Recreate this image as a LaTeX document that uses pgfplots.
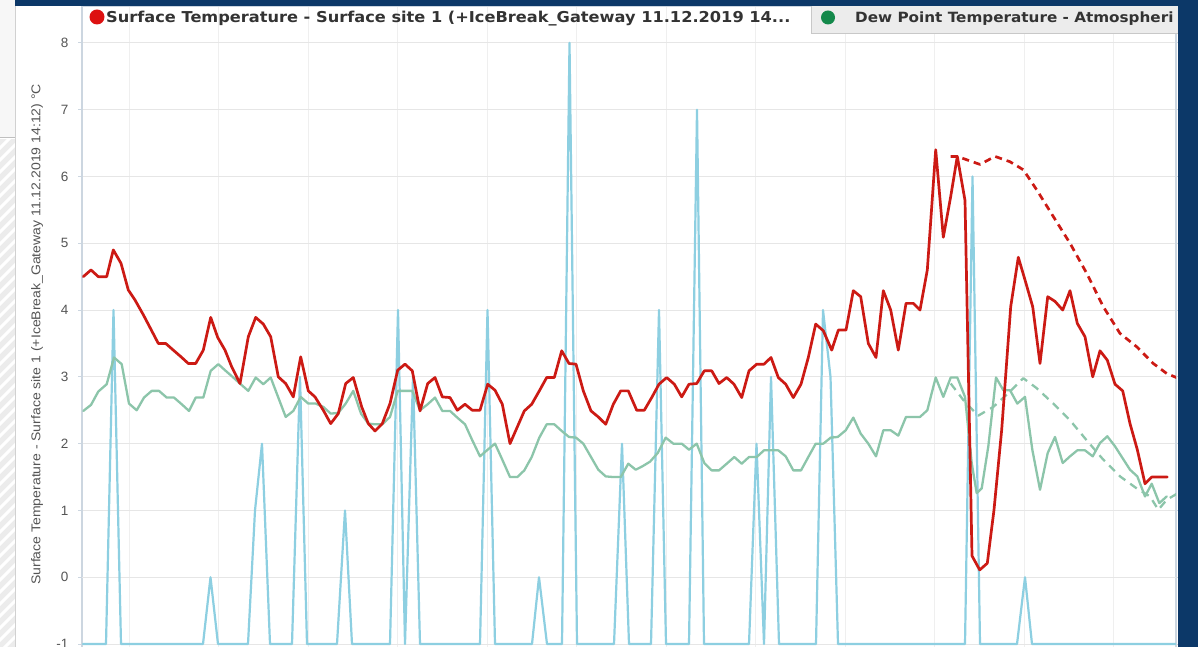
\documentclass[border=0pt]{standalone}
\usepackage{fontspec}
\setmainfont{Liberation Sans}
\newfontfamily\legfont[FakeStretch=1.08]{DejaVu Sans}
\newfontfamily\labfont[FakeStretch=1.1]{Liberation Sans}
\usepackage{pgfplots}
\pgfplotsset{compat=1.18}
\definecolor{navy}{HTML}{0C3868}
\definecolor{redline}{HTML}{CC1A14}
\definecolor{greenline}{HTML}{8CC5AA}
\definecolor{blueline}{HTML}{8DCFE1}
\definecolor{gridc}{HTML}{E6E6E6}
\definecolor{vgridc}{HTML}{EFEFEF}
\definecolor{axisc}{HTML}{CCD6E0}
\definecolor{zeroc}{HTML}{C4C4C4}
\definecolor{tabgray}{HTML}{ECECEC}
\definecolor{tabline}{HTML}{C8C8C8}
\definecolor{ticktext}{HTML}{555555}
\definecolor{legtext}{HTML}{333333}
\definecolor{legred}{HTML}{DD1111}
\definecolor{leggreen}{HTML}{14894B}
\definecolor{stripbg}{HTML}{ECECEC}

\pgfplotstableread{
x y
83.3 4.50
91 4.60
98.3 4.50
106.7 4.50
113.3 4.90
121 4.70
128.3 4.30
135 4.15
143.3 3.93
151 3.71
158.3 3.50
165.7 3.50
173.3 3.40
181 3.30
188.3 3.20
195.7 3.20
203.3 3.40
210.7 3.89
217.7 3.59
225 3.40
231.7 3.15
240 2.90
248.3 3.60
255.7 3.89
263.3 3.79
270.7 3.60
278.3 3.00
285.7 2.90
293.3 2.70
300.7 3.30
308.3 2.79
315 2.70
323.3 2.50
330.7 2.30
338.3 2.45
345.7 2.90
353.3 2.99
361.7 2.55
368.3 2.30
375 2.19
382.3 2.30
390 2.60
397.7 3.10
405 3.19
412.3 3.09
420 2.49
427.7 2.90
435 2.99
442.3 2.70
450 2.69
457.3 2.50
465 2.59
472.3 2.50
480 2.50
487.7 2.89
495 2.80
502.3 2.59
510 2.00
517.3 2.25
524.3 2.49
531.7 2.59
539.3 2.79
546.7 2.99
554.3 2.99
561.7 3.39
569 3.20
576 3.19
583.3 2.79
591 2.49
598.3 2.40
605.7 2.29
613.3 2.59
620.7 2.79
628.3 2.79
636.7 2.50
644.3 2.50
651.7 2.69
659 2.89
666.7 2.99
674.3 2.89
681.7 2.70
689 2.89
696.7 2.90
704.3 3.09
711.7 3.09
719 2.90
726.7 2.99
734 2.89
741.7 2.69
749 3.09
756.7 3.19
764 3.19
771 3.29
778.3 2.99
785.7 2.89
793.3 2.69
801 2.89
808.3 3.29
815.7 3.79
823.3 3.69
831.7 3.40
838.3 3.70
846 3.70
853.3 4.29
860.7 4.20
868.3 3.50
876 3.29
883.3 4.29
890.7 4.00
898.3 3.40
906 4.10
913.3 4.10
920 4.00
927.3 4.60
935.7 6.40
943.3 5.09
950.7 5.70
957.3 6.30
965 5.64
972 0.32
979.7 0.11
987.3 0.21
994 1.01
1001.7 2.21
1010.7 4.05
1018.3 4.79
1025 4.45
1032.7 4.05
1040 3.20
1047.7 4.20
1055 4.13
1062.7 4.00
1070 4.29
1077.3 3.80
1085 3.60
1092.7 3.00
1100 3.39
1107.3 3.25
1115 2.89
1122.7 2.79
1130 2.30
1137.3 1.91
1145 1.40
1151.7 1.50
1160 1.50
1167.3 1.50
}\surface

\pgfplotstableread{
x y
83.3 2.49
91 2.58
98.3 2.78
106.7 2.89
114 3.29
121.7 3.19
129 2.60
136.7 2.50
144 2.69
151.7 2.79
159 2.79
166.7 2.69
174 2.69
181.7 2.59
189 2.49
195.7 2.69
203.3 2.69
210.7 3.09
218.3 3.19
225.7 3.09
233.3 2.99
240.7 2.89
248.3 2.79
255.7 2.99
263.3 2.89
270.7 2.99
278.3 2.69
285.7 2.40
293.3 2.49
300.7 2.70
308.3 2.60
315.7 2.60
323.3 2.55
330.7 2.45
338.3 2.46
345.7 2.60
353.3 2.79
361 2.45
368.3 2.30
375 2.29
382.3 2.29
390 2.40
397.7 2.79
405 2.79
412.3 2.79
420 2.50
427.7 2.59
435 2.69
442.3 2.49
450 2.49
457.3 2.39
465 2.29
472.3 2.05
480 1.81
487.7 1.91
495 2.00
502.3 1.76
510 1.50
517.3 1.50
524.3 1.60
531.7 1.80
539.3 2.09
546.7 2.29
554.3 2.29
561.7 2.19
569 2.10
576 2.09
583.3 2.00
591 1.80
598.3 1.61
605.7 1.51
613.3 1.50
620.7 1.50
628.3 1.70
635.7 1.61
642.3 1.66
650 1.73
657.7 1.86
665.7 2.09
673.3 2.00
681.7 2.00
689 1.91
696.7 2.00
704.3 1.71
711.7 1.60
719 1.60
726.7 1.70
734.3 1.80
741.7 1.70
749 1.80
756.7 1.80
764 1.90
771 1.90
778.3 1.90
785.7 1.81
793.3 1.60
801 1.60
808.3 1.80
815.7 2.00
823.3 2.00
830.7 2.09
837.7 2.10
845.7 2.20
853.3 2.39
860.7 2.15
868.3 2.00
876 1.81
883.3 2.20
890.7 2.20
898.3 2.12
906 2.40
913.3 2.40
920 2.40
927.3 2.50
935.7 2.99
943.3 2.70
950.7 2.99
957.3 2.99
965 2.70
971.7 1.71
976.7 1.26
981.7 1.33
988.3 1.96
996 2.99
1003.3 2.80
1010 2.80
1017.3 2.60
1025 2.70
1032.3 1.91
1040 1.31
1047.7 1.86
1055 2.10
1062.7 1.71
1070 1.81
1077.3 1.90
1085 1.90
1092.7 1.81
1100 2.01
1107.3 2.11
1115 1.96
1122.7 1.78
1130 1.61
1137.3 1.51
1145 1.21
1151.7 1.40
1159.3 1.11
1166.7 1.21
}\dewpoint

\pgfplotstableread{
x y
950.7 2.90
965 2.62
978.3 2.42
993.3 2.55
1010 2.78
1023.3 2.98
1036.7 2.83
1053.3 2.60
1070 2.35
1086.7 2.05
1103.3 1.76
1120 1.51
1136.7 1.33
1150 1.21
1158.3 1.01
1166.7 1.16
1178 1.26
}\dewforecast

\pgfplotstableread{
x y
950.7 6.30
957.3 6.30
966.7 6.25
980 6.18
995 6.30
1010 6.22
1023.3 6.10
1036.7 5.80
1053.3 5.40
1070 5.00
1086.7 4.55
1103.3 4.05
1120 3.65
1136.7 3.45
1153.3 3.20
1166.7 3.05
1178 2.98
}\surfforecast

\pgfplotstableread{
x y
83 -1
106 -1
113.5 4
121 -1
203 -1
210.5 0
218 -1
248 -1
255 1
262 2
270 -1
292 -1
300 3
307 -1
337 -1
345 1
352 -1
390 -1
398 4
405 -1
413 3
420 -1
480 -1
487.5 4
495 -1
532 -1
539 0
547 -1
562 -1
569.5 8
577 -1
614 -1
622 2
629 -1
651 -1
659 4
666 -1
689 -1
697 7
704 -1
749 -1
756.5 2
764 -1
771 3
779 -1
816 -1
823 4
830.5 3
838 -1
965 -1
972.5 6
980 -1
1017 -1
1025 0
1032 -1
1176 -1
}\bluedata

\begin{document}
\begin{tikzpicture}
\useasboundingbox (0,0) rectangle (1198pt,647pt);
% background in pixel coordinates (y downward)
\begin{scope}[x=1pt,y=-1pt,shift={(0pt,647pt)}]
  \fill[white] (0,0) rectangle (1198,647);
  \fill[black!3] (0,0) rectangle (15,137);
  \fill[stripbg] (0,139) rectangle (15,647);
  \begin{scope}
    \clip (0,139) rectangle (15,647);
    \foreach \i in {0,...,45} {\draw[white, line width=3pt] (-2,150+\i*12) -- ++(20,-20);}
  \end{scope}
  \draw[black!25, line width=1pt] (0,138) -- (15,138);
  \draw[black!18, line width=1pt] (15.5,6) -- (15.5,647);
\end{scope}

\begin{axis}[
  at={(82pt,-0.4pt)}, anchor=south west,
  x=1pt, y=66.8pt,
  xmin=82, xmax=1176, ymin=-1.05, ymax=8.552,
  enlargelimits=false,
  axis line style={draw=axisc, line width=1.2pt},
  xtick={129,218.5,308,397.5,487,576.5,666,755.5,845,934.5,1024,1113.5},
  xticklabels={},
  x tick style={draw=none},
  xmajorgrids, ymajorgrids,
  x grid style={vgridc, line width=1pt},
  y grid style={gridc, line width=1pt},
  ytick={-1,0,...,8},
  tick align=outside,
  y tick style={draw=axisc, line width=1pt},
  major tick length=4pt,
  yticklabel style={font=\fontsize{13.5}{13.5}\selectfont, text=ticktext, xshift=-6pt},
  /pgf/number format/assume math mode=true,
  ylabel={Surface Temperature - Surface site 1 (+IceBreak\_Gateway 11.12.2019 14:12) °C},
  every axis y label/.style={at={(axis description cs:-0.0411,0.4880)}, rotate=90, anchor=center, font=\labfont\fontsize{12.75}{14}\selectfont, text=ticktext},
  extra y ticks={0}, extra y tick labels={},
  extra y tick style={grid style={zeroc, line width=1.3pt}, major tick length=0pt},
  every axis plot/.append style={line join=round, line cap=round},
]
\addplot[blueline, line width=2.2pt] table {\bluedata};
\addplot[greenline, line width=2.3pt] table {\dewpoint};
\addplot[greenline, line width=2.3pt, line cap=butt, dash pattern=on 8pt off 6pt] table {\dewforecast};
\addplot[redline, line width=2.7pt, line cap=butt, dash pattern=on 7pt off 5pt] table {\surfforecast};
\addplot[redline, line width=2.7pt] table {\surface};
\end{axis}

% legend tabs and frame, pixel coordinates
\begin{scope}[x=1pt,y=-1pt,shift={(0pt,647pt)}]
  \fill[tabgray] (811,6) rectangle (1198,33);
  \draw[tabline, line width=1pt] (811.5,6) -- (811.5,33.5) -- (1178,33.5);
  \fill[legred] (97,17) circle (7.5);
  \node[anchor=base west, inner sep=0pt, text=legtext, font=\legfont\bfseries\fontsize{15}{16}\selectfont] at (106,22.5) {Surface Temperature - Surface site 1 (+IceBreak\_Gateway 11.12.2019 14...};
  \fill[leggreen] (828,17.5) circle (7);
  \fill[navy] (15,0) rectangle (1198,6);
  \fill[navy] (1178,0) rectangle (1198,647);
  \node[anchor=base west, inner sep=0pt, text=legtext, font=\legfont\bfseries\fontsize{14.1}{15}\selectfont] at (855,23) {Dew Point Temperature - Atmospheri};
\end{scope}
\end{tikzpicture}
\end{document}
